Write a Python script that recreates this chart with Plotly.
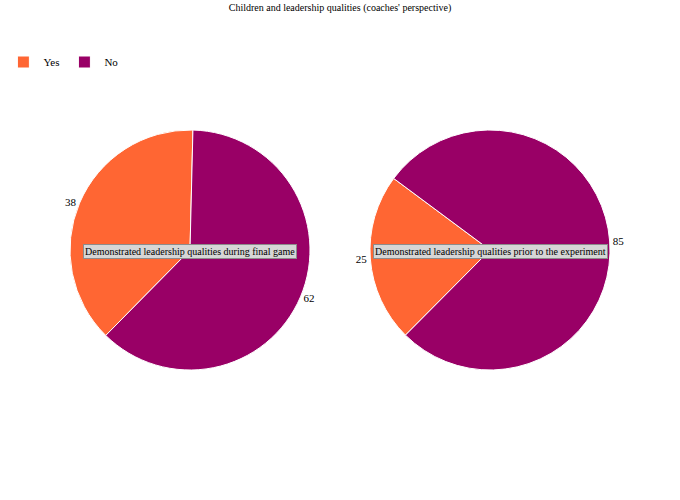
import plotly.graph_objects as go

title_text = "Children and leadership qualities (coaches' perspective)"
categories = ["Yes", "No"]
final_game = [38, 62]
prior_experiment = [25, 85]
pie_titles = ["Demonstrated leadership qualities during final game",
              "Demonstrated leadership qualities prior to the experiment"]
colors = ["#FF6633", "#990066"]

W, H = 680, 500
FONT = "Liberation Serif, Times New Roman, serif"

def dom(cx, cy, r):
    return dict(x=[(cx - r) / W, (cx + r) / W], y=[1 - (cy + r) / H, 1 - (cy - r) / H])

fig = go.Figure()
fig.add_trace(go.Pie(
    labels=categories, values=final_game, sort=False, direction="clockwise",
    rotation=-135.4, marker=dict(colors=colors, line=dict(color="white", width=1)),
    textinfo="value", textposition="outside", textfont=dict(size=11, color="black", family=FONT),
    domain=dom(190, 250, 120), showlegend=True, hoverinfo="label+value+percent",
))
fig.add_trace(go.Pie(
    labels=categories, values=prior_experiment, sort=False, direction="clockwise",
    rotation=-135.2, marker=dict(colors=colors, line=dict(color="white", width=1)),
    textinfo="value", textposition="outside", textfont=dict(size=11, color="black", family=FONT),
    domain=dom(490, 250, 120), showlegend=False, hoverinfo="label+value+percent",
))

for t, cx in zip(pie_titles, [190, 490]):
    fig.add_annotation(
        x=cx / W, y=1 - 251 / H, xref="paper", yref="paper", text=t, showarrow=False,
        xanchor="center", yanchor="middle",
        font=dict(size=10, color="black", family=FONT),
        bgcolor="#d6d6d6", bordercolor="#8c8c8c", borderwidth=1, borderpad=1,
    )

fig.update_layout(
    width=W, height=H, autosize=False,
    margin=dict(l=0, r=0, t=0, b=0),
    paper_bgcolor="white", plot_bgcolor="white",
    font=dict(family=FONT, size=11, color="black"),
    title=dict(text=title_text, x=0.5, xanchor="center", y=1 - 7 / H, yanchor="middle",
               font=dict(size=10, family=FONT, color="black")),
    legend=dict(orientation="h", x=0.005, y=1 - 62 / H, xanchor="left", yanchor="middle",
                font=dict(size=11, family=FONT, color="black"), itemwidth=30,
                traceorder="normal"),
)

fig.write_html("out.html", config={"displayModeBar": False},
               post_script="document.body.style.margin='0';document.body.style.padding='0';")
